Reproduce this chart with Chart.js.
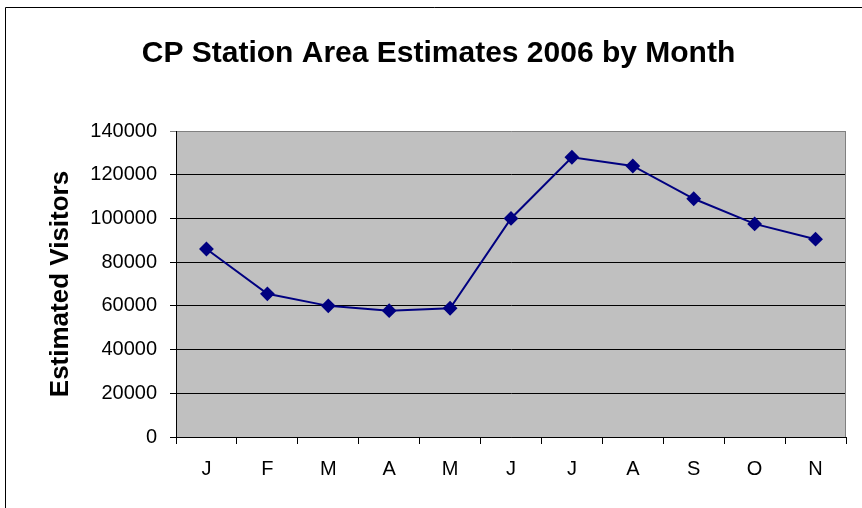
<!DOCTYPE html>
<html>
<head>
<meta charset="utf-8">
<script src="https://cdn.jsdelivr.net/npm/chart.js@4.4.1/dist/chart.umd.min.js"></script>
<style>
  html, body { margin: 0; padding: 0; background: #fff; }
  #box { width: 862px; height: 508px; position: relative; }
</style>
</head>
<body>
<div id="box"><canvas id="chart1"></canvas></div>
<script>
// months shown on x axis (Dec is not in the chart)
var months = ['J', 'F', 'M', 'A', 'M', 'J', 'J', 'A', 'S', 'O', 'N'];
// estimated visitors
var visitors = [86000, 65500, 60000, 57800, 58900, 100000, 128000, 124000, 109000, 97500, 90500];
var yMin = 0;
var yMax = 140000;
var yStep = 20000;

var fontName = "'Liberation Sans', Arial, sans-serif";

// grey plot area + the outer chart frame
var frame = {
  id: 'frame',
  beforeDraw: function(chart) {
    var c = chart.ctx;
    var a = chart.chartArea;
    c.save();
    c.fillStyle = '#fff';
    c.fillRect(0, 0, chart.width, chart.height);
    c.fillStyle = '#C0C0C0';
    c.fillRect(a.left, a.top, a.right - a.left, a.bottom - a.top);
    c.strokeStyle = '#000';
    c.lineWidth = 1;
    c.beginPath();
    c.moveTo(5.5, chart.height + 5);
    c.lineTo(5.5, 7.5);
    c.lineTo(chart.width + 5, 7.5);
    c.stroke();
    c.restore();
  },
  beforeDatasetsDraw: function(chart) {
    var c = chart.ctx;
    var a = chart.chartArea;
    c.save();
    c.strokeStyle = '#808080';
    c.lineWidth = 1;
    c.beginPath();
    c.moveTo(Math.round(a.right) - 0.5, a.top);
    c.lineTo(Math.round(a.right) - 0.5, a.bottom);
    c.stroke();
    c.restore();
  }
};

new Chart(document.querySelector('#chart1'), {
  type: 'line',
  data: {
    labels: months,
    datasets: [{
      label: 'Estimated Visitors',
      data: visitors,
      borderColor: '#000080',
      backgroundColor: '#000080',
      borderWidth: 2,
      pointStyle: 'rectRot',
      pointRadius: 6,
      pointHoverRadius: 6,
      tension: 0
    }]
  },
  options: {
    responsive: true,
    maintainAspectRatio: false,
    animation: false,
    devicePixelRatio: 1,
    layout: { padding: { left: 31, right: 16, top: 0, bottom: 0 } },
    plugins: {
      legend: { display: false },
      tooltip: { enabled: false },
      title: {
        display: true,
        text: 'CP Station Area Estimates 2006 by Month',
        color: '#000',
        font: { family: fontName, size: 30, weight: 'bold', lineHeight: 1.2 },
        padding: { top: 36, bottom: 59 }
      }
    },
    scales: {
      x: {
        offset: true,
        grid: {
          offset: true,
          drawOnChartArea: false,
          drawTicks: true,
          tickLength: 7,
          color: '#000'
        },
        border: { display: true, color: '#000', width: 1 },
        ticks: {
          color: '#000',
          padding: 13,
          maxRotation: 0,
          autoSkip: false,
          font: { family: fontName, size: 20 }
        },
        afterFit: function(s) { s.height = 71; }
      },
      y: {
        min: yMin,
        max: yMax,
        grid: {
          color: function(ctx) {
            return ctx.tick && ctx.tick.value === yMax ? '#808080' : '#000';
          },
          lineWidth: 1,
          drawTicks: true,
          tickLength: 6
        },
        border: { display: true, color: '#000', width: 1 },
        ticks: {
          stepSize: yStep,
          color: '#000',
          padding: 13,
          font: { family: fontName, size: 20 },
          callback: function(v) { return String(v); }
        },
        title: {
          display: true,
          text: 'Estimated Visitors',
          color: '#000',
          font: { family: fontName, size: 26, weight: 'bold', lineHeight: 1.2 },
          padding: { top: 14, bottom: 0 }
        },
        afterFit: function(s) { s.width = 145; }
      }
    }
  },
  plugins: [frame]
});
</script>
</body>
</html>
